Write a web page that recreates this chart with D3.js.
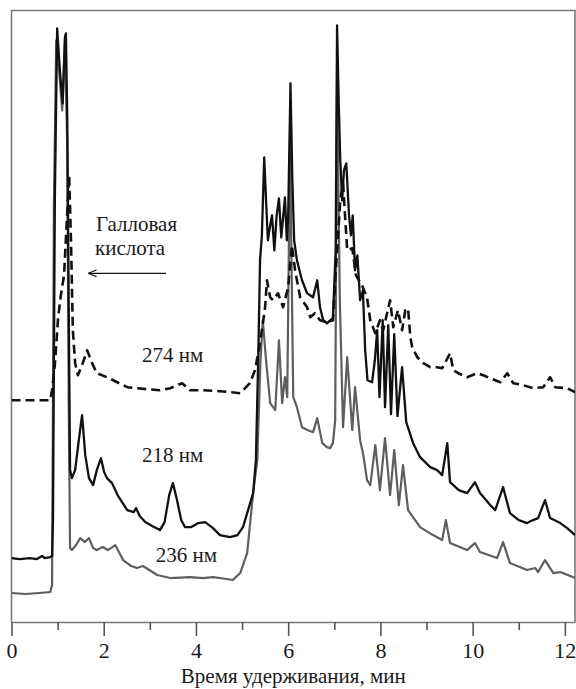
<!DOCTYPE html>
<html>
<head>
<meta charset="utf-8">
<script src="https://cdn.jsdelivr.net/npm/d3@7"></script>
<style>
  body { margin: 0; background: #fff; }
  svg { display: block; }
  svg text { font-family: "Liberation Serif", "Times New Roman", Times, "DejaVu Serif", serif !important; fill: #1a1a1a; }
</style>
</head>
<body>
<svg id="chart" width="576" height="689"></svg>
<script>
// retention time (min), signal (arb. units)
const trace218 = [
  [0, 64], [0.18, 63], [0.40, 64], [0.55, 63], [0.66, 66], [0.72, 64], [0.84, 65], [0.88, 66],
  [0.90, 102], [0.94, 422], [0.99, 594], [1.05, 552], [1.11, 519], [1.16, 584], [1.18, 589],
  [1.21, 502], [1.24, 322], [1.27, 152], [1.31, 144], [1.38, 152], [1.46, 182], [1.53, 207],
  [1.60, 167], [1.68, 144], [1.77, 137], [1.85, 152], [1.94, 164], [2.01, 150], [2.07, 144],
  [2.18, 139], [2.30, 127], [2.51, 112], [2.65, 110], [2.70, 114], [2.78, 106], [2.90, 100],
  [3.05, 96], [3.22, 92], [3.32, 100], [3.42, 127], [3.50, 139], [3.58, 124], [3.68, 102],
  [3.76, 95], [3.90, 95], [4.05, 99], [4.20, 100], [4.37, 94], [4.52, 87], [4.74, 85],
  [4.90, 87], [5.02, 95], [5.13, 112], [5.24, 129], [5.30, 162], [5.35, 262], [5.39, 362],
  [5.43, 387], [5.48, 465], [5.52, 422], [5.56, 382], [5.61, 397], [5.65, 407], [5.70, 372],
  [5.75, 407], [5.80, 424], [5.85, 385], [5.93, 425], [5.97, 382], [6.00, 407], [6.05, 539],
  [6.09, 442], [6.13, 382], [6.19, 362], [6.30, 342], [6.41, 329], [6.54, 325], [6.63, 342],
  [6.69, 315], [6.76, 302], [6.84, 299], [6.97, 304], [7.03, 372], [7.06, 597], [7.10, 512],
  [7.13, 462], [7.17, 422], [7.21, 452], [7.26, 459], [7.32, 407], [7.36, 387], [7.40, 407],
  [7.45, 352], [7.50, 367], [7.56, 322], [7.62, 332], [7.67, 272], [7.72, 242], [7.82, 240],
  [7.88, 262], [7.93, 292], [7.98, 225], [8.05, 302], [8.10, 215], [8.17, 297], [8.23, 208],
  [8.30, 288], [8.37, 206], [8.47, 255], [8.56, 200], [8.71, 179], [8.86, 165], [9.08, 155],
  [9.23, 152], [9.34, 147], [9.45, 179], [9.51, 140], [9.70, 132], [9.88, 129], [10.05, 140],
  [10.16, 129], [10.38, 117], [10.49, 112], [10.66, 135], [10.81, 109], [11.00, 102],
  [11.18, 99], [11.31, 102], [11.42, 104], [11.57, 122], [11.68, 104], [11.90, 99],
  [12.05, 94], [12.22, 87]
]

const trace236 = [
  [0, 29], [0.30, 28], [0.60, 29], [0.84, 30], [0.88, 37], [0.92, 422], [0.97, 582],
  [1.04, 547], [1.10, 512], [1.16, 587], [1.21, 472], [1.24, 222], [1.27, 74], [1.31, 72],
  [1.40, 77], [1.49, 84], [1.59, 80], [1.68, 84], [1.77, 74], [1.85, 72], [1.98, 75],
  [2.09, 72], [2.25, 77], [2.42, 62], [2.60, 56], [2.72, 54], [2.85, 56], [3.16, 47],
  [3.44, 44], [3.87, 45], [4.15, 44], [4.37, 45], [4.52, 44], [4.80, 42], [4.96, 49],
  [5.11, 69], [5.24, 129], [5.33, 162], [5.40, 262], [5.45, 302], [5.52, 262], [5.61, 219],
  [5.72, 212], [5.80, 282], [5.87, 219], [5.93, 245], [5.98, 225], [6.04, 482], [6.11, 225],
  [6.19, 215], [6.30, 195], [6.43, 192], [6.54, 190], [6.63, 204], [6.74, 179], [6.84, 175],
  [6.91, 174], [6.97, 179], [7.02, 202], [7.06, 542], [7.12, 322], [7.19, 195], [7.28, 265],
  [7.39, 192], [7.45, 235], [7.56, 182], [7.63, 167], [7.71, 142], [7.78, 137], [7.89, 177],
  [7.99, 132], [8.10, 184], [8.21, 127], [8.30, 172], [8.40, 117], [8.49, 157], [8.60, 112],
  [8.86, 95], [9.14, 87], [9.34, 82], [9.42, 102], [9.51, 79], [9.88, 72], [10.05, 79],
  [10.16, 70], [10.53, 64], [10.66, 80], [10.81, 59], [11.18, 52], [11.36, 54], [11.42, 50],
  [11.57, 62], [11.75, 49], [11.90, 50], [12.22, 44]
]

const trace274 = [
  [0, 222], [0.50, 222], [0.84, 222], [0.88, 232], [0.94, 257], [1.01, 304], [1.07, 327],
  [1.14, 347], [1.20, 402], [1.25, 447], [1.29, 382], [1.33, 292], [1.38, 259], [1.44, 247],
  [1.53, 257], [1.64, 272], [1.75, 259], [1.85, 249], [2.07, 245], [2.51, 235], [2.94, 233],
  [3.22, 232], [3.44, 234], [3.70, 239], [3.87, 232], [4.15, 232], [4.52, 231], [4.96, 229],
  [5.17, 239], [5.28, 252], [5.35, 269], [5.43, 292], [5.50, 315], [5.54, 342], [5.61, 325],
  [5.67, 322], [5.78, 329], [5.89, 315], [6.00, 335], [6.08, 377], [6.15, 352], [6.26, 325],
  [6.41, 315], [6.48, 305], [6.58, 309], [6.69, 302], [6.84, 300], [6.97, 302], [7.06, 372],
  [7.13, 422], [7.19, 439], [7.28, 372], [7.39, 374], [7.47, 347], [7.60, 337], [7.71, 325],
  [7.78, 302], [7.89, 289], [7.99, 302], [8.06, 292], [8.21, 322], [8.28, 295], [8.38, 312],
  [8.47, 292], [8.54, 312], [8.60, 314], [8.65, 285], [8.69, 275], [8.80, 265], [8.93, 259],
  [9.08, 255], [9.23, 255], [9.34, 254], [9.40, 259], [9.51, 269], [9.58, 252], [9.69, 249],
  [9.88, 245], [10.10, 249], [10.23, 247], [10.38, 244], [10.60, 240], [10.75, 249],
  [10.88, 239], [11.10, 237], [11.31, 234], [11.53, 235], [11.68, 245], [11.79, 235],
  [12.05, 234], [12.22, 230]
]

const majorTicks = [0, 2, 4, 6, 8, 10, 12]
const minorTicks = [1, 3, 5, 7, 9, 11]
const xTitle = "Время удерживания, мин"

// labels placed on the chart: text, time, signal
const traceLabels = [
  { text: "274 нм", t: 2.83, v: 260 },
  { text: "218 нм", t: 2.83, v: 160 },
  { text: "236 нм", t: 3.13, v: 60 }
]

const svg = d3.select("#chart")
const plot = { left: 11.5, right: 575, top: 10.5, bottom: 622 }

const x = d3.scaleLinear().domain([0, 12.22]).range([plot.left, plot.right])
const y = d3.scaleLinear().domain([0, 612]).range([plot.bottom, plot.top])

svg.append("clipPath").attr("id", "clip")
  .append("rect")
  .attr("x", plot.left).attr("y", plot.top)
  .attr("width", plot.right - plot.left).attr("height", plot.bottom - plot.top)

// frame
svg.append("path")
  .attr("d", `M${plot.left},${plot.bottom}V${plot.top}H${plot.right}V${plot.bottom}`)
  .attr("fill", "none").attr("stroke", "#7a7a7a").attr("stroke-width", 1.6)

const line = d3.line().x(d => x(d[0])).y(d => y(d[1]))
const traces = svg.append("g").attr("clip-path", "url(#clip)")

traces.append("path").datum(trace236)
  .attr("d", line).attr("fill", "none")
  .attr("stroke", "#5e5e5e").attr("stroke-width", 2.2).attr("stroke-linejoin", "round")

traces.append("path").datum(trace218)
  .attr("d", line).attr("fill", "none")
  .attr("stroke", "#111").attr("stroke-width", 2.3).attr("stroke-linejoin", "round")

traces.append("path").datum(trace274)
  .attr("d", line).attr("fill", "none")
  .attr("stroke", "#111").attr("stroke-width", 2.6)
  .attr("stroke-dasharray", "9,5").attr("stroke-linejoin", "round")

// x axis, major and minor ticks hang below the line
const axisMajor = d3.axisBottom(x).tickValues(majorTicks).tickSize(14).tickSizeOuter(0)
  .tickPadding(6).tickFormat(d3.format("d"))
const gx = svg.append("g").attr("transform", `translate(0,${plot.bottom})`).call(axisMajor)
gx.select(".domain").attr("stroke", "#7a7a7a").attr("stroke-width", 1.6)
gx.selectAll(".tick line").attr("stroke", "#555").attr("stroke-width", 1.6)
gx.selectAll(".tick text").attr("font-size", 22).attr("fill", "#1a1a1a")

const axisMinor = d3.axisBottom(x).tickValues(minorTicks).tickSize(8).tickFormat("")
const gm = svg.append("g").attr("transform", `translate(0,${plot.bottom})`).call(axisMinor)
gm.select(".domain").remove()
gm.selectAll(".tick line").attr("stroke", "#555").attr("stroke-width", 1.6)

svg.append("text")
  .attr("x", (plot.left + plot.right) / 2).attr("y", 683)
  .attr("text-anchor", "middle").attr("font-size", 21)
  .text(xTitle)

svg.selectAll(".trace-label").data(traceLabels).join("text")
  .attr("class", "trace-label")
  .attr("x", d => x(d.t)).attr("y", d => y(d.v))
  .attr("font-size", 21)
  .text(d => d.text)

// gallic acid annotation
svg.append("text").attr("x", x(1.83)).attr("y", y(391)).attr("font-size", 21).text("Галловая")
svg.append("text").attr("x", x(1.81)).attr("y", y(367)).attr("font-size", 21).text("кислота")

svg.append("defs").append("marker")
  .attr("id", "arrow").attr("viewBox", "0 0 10 10")
  .attr("refX", 9).attr("refY", 5)
  .attr("markerWidth", 7).attr("markerHeight", 7)
  .attr("orient", "auto")
  .append("path").attr("d", "M0,1L10,5L0,9").attr("fill", "none").attr("stroke", "#111").attr("stroke-width", 1.4)

svg.append("line")
  .attr("x1", x(3.35)).attr("x2", x(1.68))
  .attr("y1", y(349)).attr("y2", y(349))
  .attr("stroke", "#111").attr("stroke-width", 1.2)
  .attr("marker-end", "url(#arrow)")
</script>
</body>
</html>
